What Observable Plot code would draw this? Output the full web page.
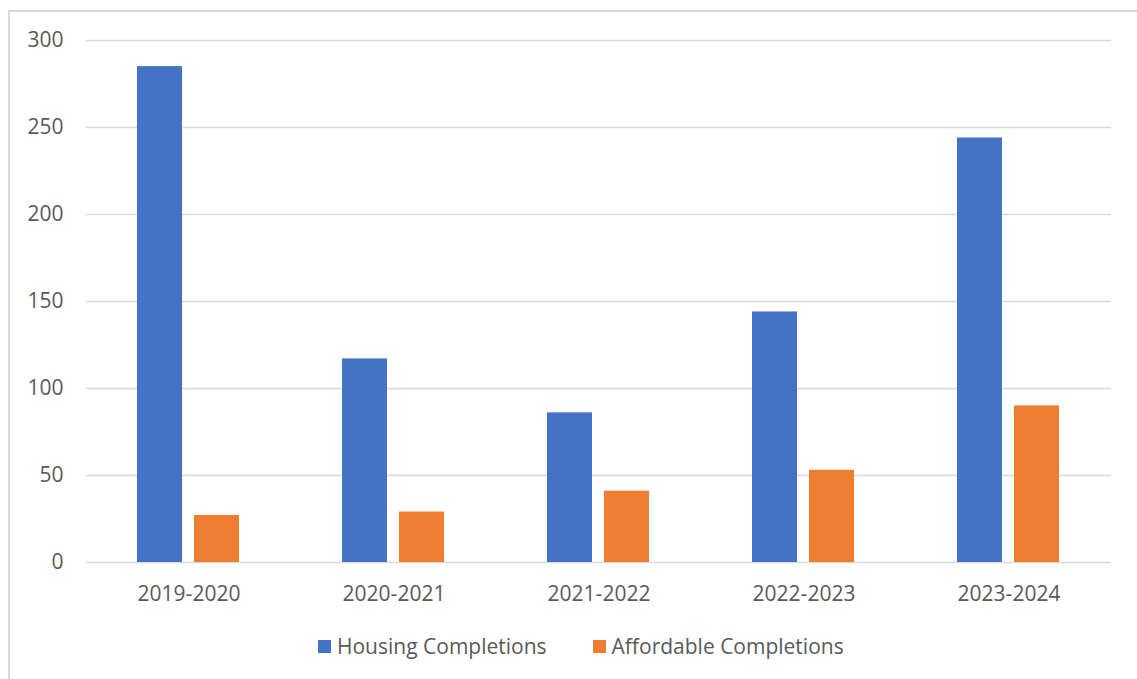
<!DOCTYPE html>
<html>
<head>
<meta charset="utf-8">
<script src="https://cdn.jsdelivr.net/npm/d3@7"></script>
<script src="https://cdn.jsdelivr.net/npm/@observablehq/plot@0.6"></script>
<style>
  html, body { margin: 0; padding: 0; background: #ffffff; overflow: hidden; }
  #wrap { position: relative; width: 1137px; height: 679px; overflow: hidden; font-family: "Open Sans", sans-serif; }
  #frame { position: absolute; left: 8px; top: 10px; width: 1160px; height: 700px; border: 2px solid #d9d9d9; box-sizing: border-box; }
  #chart { position: absolute; left: 0; top: 0; }
  #legend { position: absolute; left: 318px; top: 632px; display: flex; align-items: center; font-size: 21px; color: #595959; white-space: nowrap; }
  .item { display: flex; align-items: center; }
  .sw { width: 13px; height: 13px; margin-right: 6px; }
</style>
</head>
<body>
<div id="wrap">
  <div id="frame"></div>
  <div id="chart"></div>
  <div id="legend"></div>
</div>
<script>
const periods = ["2019-2020", "2020-2021", "2021-2022", "2022-2023", "2023-2024"];
const seriesNames = ["Housing Completions", "Affordable Completions"];
const housing = [285, 117, 86, 144, 244];
const affordable = [27, 29, 41, 53, 90];
const colors = ["#4472C4", "#ED7D31"];
const yTicks = [0, 50, 100, 150, 200, 250, 300];

const rows = [];
periods.forEach((p, i) => {
  rows.push({period: p, series: seriesNames[0], value: housing[i]});
  rows.push({period: p, series: seriesNames[1], value: affordable[i]});
});

const plot = Plot.plot({
  width: 1137,
  height: 610,
  marginLeft: 85,
  marginRight: 25,
  marginTop: 40,
  marginBottom: 48,
  style: {fontFamily: "Open Sans", fontSize: "21px", color: "#595959", background: "transparent"},
  fx: {domain: periods, padding: 0, label: null},
  x: {domain: seriesNames, paddingInner: 0.207, paddingOuter: 0.874, axis: null},
  y: {domain: [0, 300], label: null},
  color: {domain: seriesNames, range: colors},
  marks: [
    Plot.gridY(yTicks, {stroke: "#d9d9d9", strokeOpacity: 1, strokeWidth: 1.3}),
    Plot.barY(rows, {fx: "period", x: "series", y: "value", fill: "series"}),
    Plot.axisY(yTicks, {tickSize: 0, tickPadding: 23, label: null, fill: "#595959"}),
    Plot.axisFx({anchor: "bottom", tickSize: 0, tickPadding: 24, label: null, fill: "#595959"})
  ]
});
document.getElementById("chart").appendChild(plot);

const legend = document.getElementById("legend");
seriesNames.forEach((name, i) => {
  const item = document.createElement("div");
  item.className = "item";
  if (i > 0) item.style.marginLeft = "46px";
  const sw = document.createElement("div");
  sw.className = "sw";
  sw.style.background = colors[i];
  const t = document.createElement("span");
  t.textContent = name;
  item.appendChild(sw);
  item.appendChild(t);
  legend.appendChild(item);
});
</script>
</body>
</html>
